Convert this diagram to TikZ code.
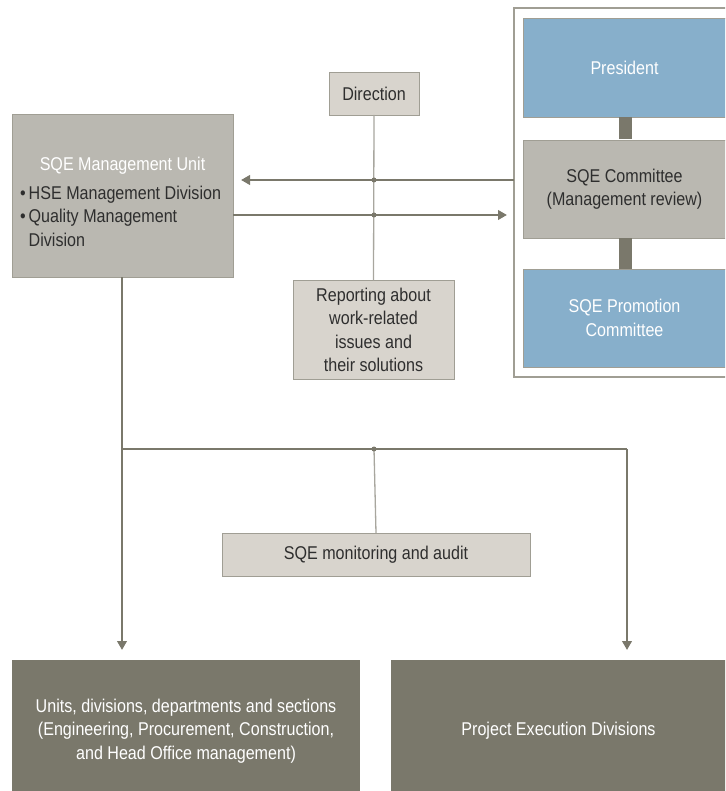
\documentclass[tikz,border=0pt]{standalone}
\usepackage{fontspec}
\setmainfont[FakeStretch=0.87]{Liberation Sans}
\usetikzlibrary{arrows.meta}
\definecolor{cblue}{HTML}{87AFCB}
\definecolor{cmid}{HTML}{BAB8B1}
\definecolor{clight}{HTML}{D8D4CD}
\definecolor{cdark}{HTML}{7A786B}
\definecolor{cedge}{HTML}{A09E94}
\definecolor{cthin}{HTML}{A8A69E}
\definecolor{ctext}{HTML}{2E2E2E}
\tikzset{
  x=1pt, y=-1pt,
  every node/.style={font=\fontsize{18.5}{23.5}\selectfont, inner sep=0pt, outer sep=0pt},
  bluebox/.style={rectangle, fill=cblue, draw=cedge, line width=0.6pt, text=white, align=center},
  midbox/.style={rectangle, fill=cmid, draw=cedge, line width=0.6pt, text=ctext, align=center},
  lightbox/.style={rectangle, fill=clight, draw=cedge, line width=0.8pt, text=ctext, align=center},
  darkbox/.style={rectangle, fill=cdark, text=white, align=center},
  thick conn/.style={draw=cdark, line width=2.3pt},
  thin conn/.style={draw=cthin, line width=1.3pt},
  bar conn/.style={draw=cdark, line width=13pt},
  tip/.style={-{Triangle[length=9pt,width=9.5pt]}},
  junction/.style={circle, fill=cdark, minimum size=5pt, inner sep=0pt},
}
\begin{document}
\begin{tikzpicture}
\useasboundingbox (0,0) rectangle (725,791);
\clip (0,0) rectangle (725,791);
% outer frame on the right
\draw[draw=cedge, line width=1.2pt] (740,8) -- (514,8) -- (514,377) -- (740,377);
% right column
\node[bluebox, minimum width=203pt, minimum height=99pt] (pres) at (624.5,67.5) {President};
\node[midbox, minimum width=203pt, minimum height=98pt] (comm) at (624.5,189) {SQE Committee\\(Management review)};
\node[bluebox, minimum width=203pt, minimum height=98pt] (promo) at (624.5,318) {SQE Promotion\\Committee};
\draw[bar conn] (625.5,117.5) -- (625.5,139.5);
\draw[bar conn] (625.5,238.5) -- (625.5,268.5);
% direction and reporting
\node[lightbox, minimum width=90pt, minimum height=43pt] (dir) at (374,93.5) {Direction};
\node[lightbox, minimum width=161pt, minimum height=99pt] (rep) at (373.5,330) {Reporting about\\work-related\\issues and\\their solutions};
% management unit
\node[midbox, minimum width=221pt, minimum height=163pt] (mgmt) at (122.5,195.5) {};
\node[text=white] (mgmttitle) at (122.5,166) {SQE Management Unit};
\node[text=ctext, anchor=north west, align=left] (mgmtlist) at (20,186) {\textbullet\,HSE Management Division\\\textbullet\,Quality Management\\\hphantom{\textbullet\,}Division};
% monitoring
\node[lightbox, minimum width=308pt, minimum height=43pt] (mon) at (376,554.5) {SQE monitoring and audit};
% bottom boxes
\node[darkbox, minimum width=348pt, minimum height=142pt] (units) at (186,731) {Units, divisions, departments and sections\\(Engineering, Procurement, Construction,\\and Head Office management)};
\node[darkbox, minimum width=335pt, minimum height=142pt] (proj) at (558.5,731) {Project Execution Divisions};
% coordinates
\coordinate (f1) at (514,180);
\coordinate (f2) at (514,215);
\coordinate (m1) at (mgmt.east |- f1);
\coordinate (m2) at (mgmt.east |- f2);
\coordinate (j1) at (374,180);
\coordinate (j2) at (374,215);
\coordinate (hl) at (122,449);
\coordinate (hr) at (627,449);
\coordinate (j3) at (374,449);
% thin connectors
\draw[thin conn] (dir.south) -- (rep.north);
\draw[thin conn] (j3) -- (mon.north);
% arrows between management unit and committee frame
\draw[thick conn, tip, shorten >=8pt] (f1) -- (m1);
\draw[thick conn, tip, shorten >=7pt] (m2) -- (f2);
% distribution lines
\draw[thick conn] (mgmt.south -| hl) -- (hl) -- (hr);
\draw[thick conn, tip, shorten >=10pt] (hl) -- (hl |- units.north);
\draw[thick conn, tip, shorten >=10pt] (hr) -- (hr |- proj.north);
% junction dots
\node[junction] (d1) at (j1) {};
\node[junction] (d2) at (j2) {};
\node[junction] (d3) at (j3) {};
\end{tikzpicture}
\end{document}
